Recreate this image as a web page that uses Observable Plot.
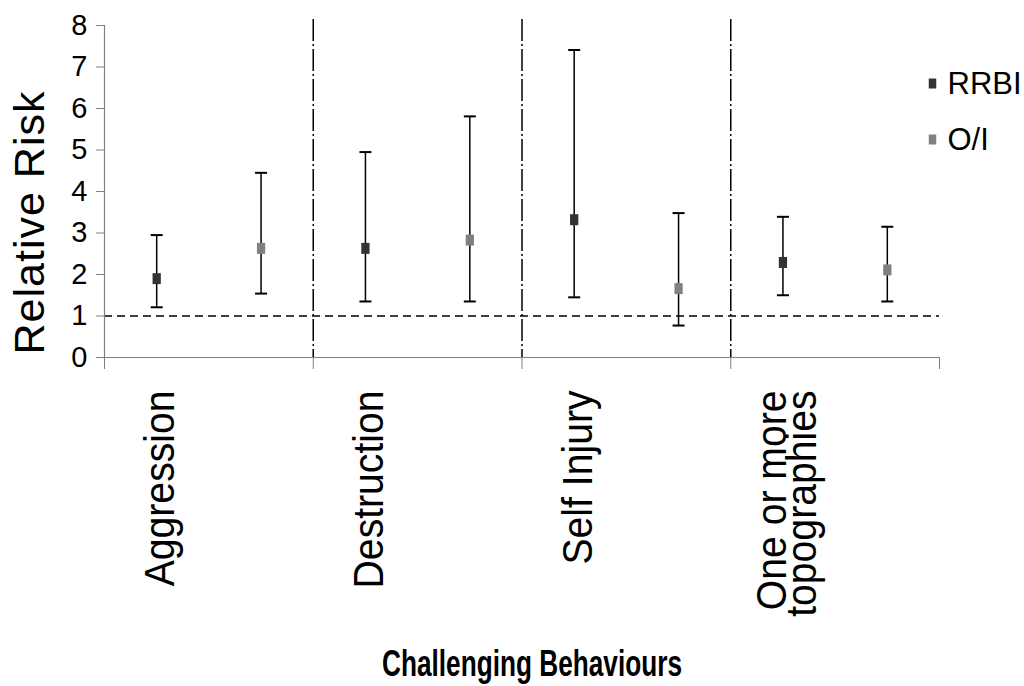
<!DOCTYPE html>
<html>
<head>
<meta charset="utf-8">
<script src="https://cdn.jsdelivr.net/npm/d3@7"></script>
<script src="https://cdn.jsdelivr.net/npm/@observablehq/plot@0.6"></script>
<style>
  html, body { margin: 0; padding: 0; background: #fff; }
  #chart svg { display: block; }
</style>
</head>
<body>
<div id="chart"></div>
<script>
// Relative risk of challenging behaviours, with 95% confidence intervals
const categories = ["Aggression", "Destruction", "Self Injury", "One or more\ntopographies"];
const series = ["RRBI", "O/I"];

const rrbiEst = [1.90, 2.63, 3.32, 2.29];
const rrbiLo  = [1.21, 1.35, 1.45, 1.50];
const rrbiHi  = [2.95, 4.95, 7.41, 3.39];

const oiEst = [2.63, 2.83, 1.66, 2.11];
const oiLo  = [1.54, 1.35, 0.77, 1.35];
const oiHi  = [4.45, 5.81, 3.48, 3.15];

const yTicks = [0, 1, 2, 3, 4, 5, 6, 7, 8];
const referenceRisk = 1;

const yTitle = "Relative Risk";
const xTitle = "Challenging Behaviours";

const seriesColor = {"RRBI": "#333333", "O/I": "#808080"};
const axisGray = "#808080";

// One row per category × series; x is the category index plus the slot within it
const rows = [];
categories.forEach((c, i) => {
  rows.push({category: c, series: "RRBI", slot: 0, ci: i, est: rrbiEst[i], lo: rrbiLo[i], hi: rrbiHi[i]});
  rows.push({category: c, series: "O/I", slot: 1, ci: i, est: oiEst[i], lo: oiLo[i], hi: oiHi[i]});
});
const pos = d => d.ci + (d.slot + 0.5) / series.length;

// Small upright rectangle used for the point estimates
const rectSymbol = {
  draw(ctx, size) {
    const r = Math.sqrt(size / Math.PI);
    const w = r * 1.5, h = r * 2;
    ctx.rect(-w / 2, -h / 2, w, h);
  }
};
// Horizontal stroke used for the whisker caps
const capSymbol = {
  draw(ctx, size) {
    const r = Math.sqrt(size / Math.PI);
    ctx.moveTo(-r, 0);
    ctx.lineTo(r, 0);
  }
};

const boundaries = d3.range(0, categories.length + 1);
const separators = d3.range(1, categories.length);

const legendMarks = series.flatMap((s, i) => [
  Plot.dot([s], {frameAnchor: "top-right", dx: -7, dy: 58 + i * 56, symbol: rectSymbol, r: 5, fill: seriesColor[s], stroke: "none"}),
  Plot.text([s], {frameAnchor: "top-right", dx: 8, dy: 59 + i * 56, text: d => d, textAnchor: "start", lineAnchor: "middle",
    fontSize: 31, fill: "black"})
]);

const chart = Plot.plot({
  width: 1024,
  height: 686,
  marginLeft: 104,
  marginRight: 85,
  marginTop: 25,
  marginBottom: 329,
  x: {domain: [0, categories.length], axis: null},
  y: {domain: [0, 8], axis: null},
  style: {fontFamily: "'Liberation Sans', Arial, sans-serif", background: "#fff", color: "black"},
  marks: [
    // dash-dot separators between behaviour groups
    Plot.ruleX(separators, {stroke: "black", strokeWidth: 1.5, strokeDasharray: "22,3,2,3", insetTop: -6}),
    // reference line at a relative risk of 1
    Plot.ruleY([referenceRisk], {stroke: "black", strokeWidth: 1.5, strokeDasharray: "8,5"}),
    // axes
    Plot.ruleX([0], {stroke: axisGray, strokeWidth: 1.2, insetBottom: -3}),
    Plot.ruleY([0], {stroke: axisGray, strokeWidth: 1.2}),
    Plot.axisY({ticks: yTicks, tickSize: 8, tickPadding: 9, fontSize: 29, stroke: axisGray, fill: "black", label: null}),
    Plot.axisX({ticks: boundaries, tickSize: 12, tickFormat: () => "", stroke: axisGray, label: null}),
    // confidence intervals
    Plot.ruleX(rows, {x: pos, y1: "lo", y2: "hi", stroke: "black", strokeWidth: 1.5}),
    Plot.dot(rows, {x: pos, y: "lo", symbol: capSymbol, r: 6, stroke: "black", strokeWidth: 2, fill: "none"}),
    Plot.dot(rows, {x: pos, y: "hi", symbol: capSymbol, r: 6, stroke: "black", strokeWidth: 2, fill: "none"}),
    // point estimates
    Plot.dot(rows, {x: pos, y: "est", symbol: rectSymbol, r: 5.5, fill: d => seriesColor[d.series], stroke: "none"}),
    // category labels
    Plot.text(categories, {x: (d, i) => i + 0.5 / series.length, frameAnchor: "bottom", text: d => d, rotate: -90,
      textAnchor: "end", lineAnchor: "middle", dx: 8, dy: 33, fontSize: 43, lineHeight: 0.7, fill: "black",
      className: "category-label"}),
    // axis titles
    Plot.text([yTitle], {frameAnchor: "left", text: d => d, rotate: -90, textAnchor: "middle", lineAnchor: "middle",
      dx: -74, dy: 31, fontSize: 43, fill: "black"}),
    Plot.text([xTitle], {frameAnchor: "bottom", text: d => d, textAnchor: "middle", lineAnchor: "middle",
      dx: 10, dy: 307, fontSize: 37, fontWeight: "bold", fill: "black"}),
    ...legendMarks
  ]
});

document.getElementById("chart").appendChild(chart);

// condense the bold axis title and space the vertical title slightly
const texts = d3.select(chart).selectAll("text");
texts.filter(function () { return this.textContent === xTitle; })
  .attr("textLength", 300)
  .attr("lengthAdjust", "spacingAndGlyphs");
texts.filter(function () { return this.textContent === yTitle; })
  .attr("letter-spacing", 1);

// narrow the tall category lettering
d3.select(chart).selectAll(".category-label text").each(function () {
  const parts = this.querySelectorAll("tspan");
  const targets = parts.length ? Array.from(parts) : [this];
  for (const t of targets) {
    const len = t.getComputedTextLength();
    t.setAttribute("textLength", (len * 0.91).toFixed(1));
    t.setAttribute("lengthAdjust", "spacingAndGlyphs");
  }
});
</script>
</body>
</html>
